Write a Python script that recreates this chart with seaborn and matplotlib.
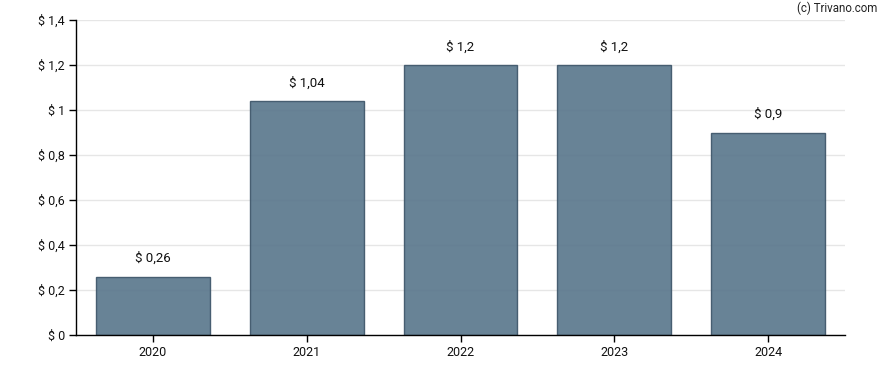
import matplotlib
matplotlib.use("Agg")
import matplotlib.pyplot as plt
import seaborn as sns
import pandas as pd

years = ["2020", "2021", "2022", "2023", "2024"]
values = [0.26, 1.04, 1.2, 1.2, 0.9]
value_labels = ["$ 0,26", "$ 1,04", "$ 1,2", "$ 1,2", "$ 0,9"]
yticks = [0, 0.2, 0.4, 0.6, 0.8, 1.0, 1.2, 1.4]
ytick_labels = ["$ 0", "$ 0,2", "$ 0,4", "$ 0,6", "$ 0,8", "$ 1", "$ 1,2", "$ 1,4"]

sns.set_theme(style="white")
plt.rcParams['font.family'] = ['Roboto', 'DejaVu Sans']

df = pd.DataFrame({"year": years, "value": values})

fig = plt.figure(figsize=(8.88, 3.70), dpi=100)
ax = fig.add_axes([76/888, 35/370, (845-76)/888, (335-20)/370])

sns.barplot(data=df, x="year", y="value", ax=ax, color="#5b788d",
            width=0.74, saturation=1, alpha=0.92,
            edgecolor="#3e566a", linewidth=1.0, zorder=2)

ax.set_xlim(-0.5, 4.5)
ax.set_ylim(0, 1.4)
ax.set_yticks(yticks)
ax.set_yticklabels(ytick_labels)
ax.yaxis.grid(True, color="#e6e6e6", linewidth=1, zorder=0)
ax.set_axisbelow(True)
ax.set_xlabel("")
ax.set_ylabel("")
for s in ["top", "right"]:
    ax.spines[s].set_visible(False)
for s in ["left", "bottom"]:
    ax.spines[s].set_color("black")
    ax.spines[s].set_linewidth(1)
ax.tick_params(axis="both", which="both", length=5, width=1, color="black",
               labelsize=9, labelcolor="#111111", pad=3, left=True, bottom=True)

for i, (v, lab) in enumerate(zip(values, value_labels)):
    ax.annotate(lab, xy=(i, v), xytext=(0, 13), textcoords="offset points",
                ha="center", va="center", fontsize=9.5, color="#111111")

fig.text(877/888, 1 - 8/370, "(c) Trivano.com", ha="right", va="center",
         fontsize=8.3, color="#222222")

fig.savefig("out.png", dpi=100)
